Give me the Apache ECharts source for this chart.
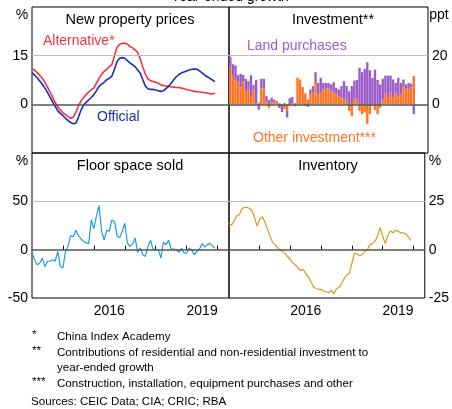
<!DOCTYPE html>
<html>
<head>
<meta charset="utf-8">
<script src="https://cdn.jsdelivr.net/npm/echarts@6/dist/echarts.min.js"></script>
<style>
  html, body { margin: 0; padding: 0; background: #fff; }
  #chart { width: 452px; height: 409px; }
</style>
</head>
<body>
<div id="chart"></div>
<script>
// monthly data, Jan 2014 onwards
const official = [9.8,9.0,8.2,7.2,6.2,5.0,3.7,2.2,0.8,-0.6, -2.0,-2.8,-3.5,-4.3,-5.0,-5.6,-6.0,-5.8,-4.0,-1.8,
  -0.3,0.6,1.4,2.1,3.0,4.2,5.5,6.2,6.8,7.6, 8.0,8.7,10.8,13.2,14.2,14.4,14.2,13.5,12.8,12.2,
  11.6,10.6,9.6,7.6,5.6,4.8,4.6,4.6,4.4,4.2, 4.0,4.2,4.8,5.6,6.5,7.6,8.5,9.2,9.7,10.0,
  10.3,10.6,10.8,10.9,10.8,10.3,9.7,9.0,8.5,8.0, 7.5,7.0];
const alternative = [11.0,10.5,9.8,9.0,8.0,6.8,5.3,3.8,2.2,0.6, -0.8,-1.8,-2.6,-3.2,-3.8,-4.3,-4.0,-2.5,-0.5,1.0,
  2.0,3.0,3.8,4.5,5.0,6.5,8.0,9.3,10.2,10.8, 11.6,12.3,15.0,17.6,18.5,18.8,18.8,18.6,17.8,17.4,
  16.8,16.0,14.0,11.5,9.3,7.8,7.3,7.0,6.8,6.5, 6.0,5.8,5.6,5.5,5.4,5.3,5.2,5.2,5.0,4.8,
  4.6,4.4,4.2,4.0,3.9,3.8,3.7,3.6,3.5,3.3, 3.2,3.4];
const otherInvestment = [15.6,12,10,9,7,9.5,5.5,6,3.5,6, 0.5,0.7,6.5,6.5,0.7,-1.4,1,0.7,1,0.5,
  -0.7,-2,-2.7,-0.5,0.6,0.5,10.9,10.2,6.8,4.5, 2,4,4.8,8.8,4,4.8,6.1,6.4,6.4,5.4,
  4.8,4,3.4,2.7,2,1.8,-2.7,-4.8,2.3,2, -2.7,-4,-3.4,-8,-4,-0.7,-2.5,-4,-1.4,2,
  4.4,2.7,4.8,2.7,4.8,3.4,4,7.5,6.4,6.1, 7,11.6];
const landPurchases = [3.9,4.5,6,3,5.5,2.5,5,3.5,8.5,2, 9.5,-2.2,4,4,2.7,1.8,1.7,1.3,0.4,-1.5,
  -2.5,0.5,-2.7,2.5,2.4,-0.8,0,0,0.3,-0.7, -1,2.1,2.7,4.4,4.8,6.1,2.7,2.4,2.4,2.8,
  4.3,2.8,2.7,4.8,7.5,5.7,5.4,7.5,7.5,8, 15,13.2,14.6,17.3,14,10.9,14.3,10,8.2,8.5,
  7.4,9.1,7,7.5,4,7.5,4.8,2.7,1.8,2.7, 1.5,-4];
const floorSpace = [-3.5,-10.5,-15.7,-14,-8.7,-17.5,-12,-12,-10.5,-12, -1.7,-17.5,-19,-1.7,3.5,14.7,13.3,20,14.7,11.2,
  8.7,7,6.3,30.8,21.7,35,45.5,19.2,9.8,20, 19.2,30.8,29,14.7,12.2,19.2,27.3,7,3.5,6,
  12.2,-2.8,1.7,-5.2,-7,3.5,9.8,0,0,0, -8.7,7.7,5.2,9.8,0.7,0.7,0,-2.8,1.4,-3.5,
  -3.5,1.4,0,-5.2,-1.7,0.7,6.3,2.8,5.2,6.5, 4.2,1.4];
const inventory = [13.6,12.6,14.9,17.5,18,21,21.9,21.9,21.3,20.1, 16.6,12.2,15.7,17,14.3,10.5,7,3.8,2.6,0.9,
  -0.3,-0.9,-2.1,-3.8,-5.2,-7,-7.9,-9.6,-10.8,-10.1, -12.6,-14,-16.6,-19.2,-20.1,-20.5,-20.5,-21.5,-21.9,-22.2,
  -21,-22.7,-20.1,-19.6,-17.5,-14.9,-13.1,-12.2,-7,-1.7, -2.1,-3.1,-2.6,-0.9,0,2.6,3.1,4.4,7,11.4,
  7,3.1,7.3,9.6,8.7,10,9.6,8.7,8.7,8.2, 6.6,4.9];

const yearTicks = [2015, 2016, 2017, 2018, 2019, 2020];
const yearLabels = [2016, 2019];

const FONT = 'Liberation Sans, Arial, sans-serif';
const t = m => 2014 + m / 12;
const lineData = arr => arr.map((v, i) => [t(i), v]);
// monthly slots for the bar panel, Jan 2014 to May 2020
const barMonths = Array.from({ length: 77 }, (_, i) => (2014 + Math.floor(i / 12)) + '-' + (i % 12 + 1));

const refLines = g => ({
  silent: true, symbol: ['none', 'none'], label: { show: false }, animation: false,
  data: [
    { yAxis: g, lineStyle: { color: '#bdbdbd', width: 1, type: 'solid' } },
    { yAxis: 0, lineStyle: { color: '#555', width: 1.5, type: 'solid' } }
  ]
});

function xAx(i, labels) {
  return {
    type: 'value', gridIndex: i, min: 2014, max: 2020.37,
    axisLine: { show: false }, splitLine: { show: false },
    axisTick: { show: labels, inside: true, length: 4, customValues: yearTicks, lineStyle: { color: '#000' } },
    axisLabel: { show: labels, customValues: yearLabels.map(y => y + 0.5), formatter: v => String(Math.floor(v)),
      fontSize: 14, color: '#000', margin: 6, fontFamily: FONT }
  };
}
function yAx(i, pos, min, max, step, showMin) {
  return {
    type: 'value', gridIndex: i, position: pos, min: min, max: max, interval: step,
    axisLine: { show: false }, axisTick: { show: false }, splitLine: { show: false },
    axisLabel: { formatter: v => (v === max || (v === min && !showMin)) ? '' : String(v),
      fontSize: 14, color: '#000', margin: 4, fontFamily: FONT }
  };
}
function txt(s, x, y, size, color, align) {
  return { type: 'text', x: x, y: y, silent: true,
    style: { text: s, font: size + 'px ' + FONT, fill: color || '#000',
      textAlign: align || 'center', textVerticalAlign: 'middle' } };
}

const gridBox = { show: true, borderColor: '#000', borderWidth: 1, backgroundColor: 'transparent' };

const chart = echarts.init(document.getElementById('chart'), null, { renderer: 'canvas' });
chart.setOption({
  animation: false,
  grid: [
    Object.assign({ left: 32, top: 7, width: 197, height: 146 }, gridBox),
    Object.assign({ left: 229, top: 7, width: 199, height: 146 }, gridBox),
    Object.assign({ left: 32, top: 153, width: 197, height: 145 }, gridBox),
    Object.assign({ left: 229, top: 153, width: 199, height: 145 }, gridBox)
  ],
  xAxis: [
    xAx(0, false),
    { type: 'category', gridIndex: 1, data: barMonths, boundaryGap: true,
      axisLine: { show: false }, axisTick: { show: false }, axisLabel: { show: false }, splitLine: { show: false } },
    xAx(2, true),
    xAx(3, true)
  ],
  yAxis: [
    yAx(0, 'left', -15, 30, 15, false),
    yAx(1, 'right', -20, 40, 20, false),
    yAx(2, 'left', -50, 100, 50, true),
    yAx(3, 'right', -25, 50, 25, true)
  ],
  series: [
    { type: 'line', xAxisIndex: 0, yAxisIndex: 0, data: lineData(alternative), showSymbol: false,
      lineStyle: { color: '#f5333f', width: 1.6 }, markLine: refLines(15) },
    { type: 'line', xAxisIndex: 0, yAxisIndex: 0, data: lineData(official), showSymbol: false,
      lineStyle: { color: '#1b2fae', width: 1.6 } },
    { type: 'bar', xAxisIndex: 1, yAxisIndex: 1, stack: 'inv', data: otherInvestment, barCategoryGap: '8%',
      itemStyle: { color: '#ff7324' }, markLine: refLines(20) },
    { type: 'bar', xAxisIndex: 1, yAxisIndex: 1, stack: 'inv', data: landPurchases, barCategoryGap: '8%',
      itemStyle: { color: '#9b5dc9' } },
    { type: 'line', xAxisIndex: 2, yAxisIndex: 2, data: lineData(floorSpace), showSymbol: false,
      lineStyle: { color: '#1a9fe0', width: 1.2 }, markLine: refLines(50) },
    { type: 'line', xAxisIndex: 3, yAxisIndex: 3, data: lineData(inventory), showSymbol: false,
      lineStyle: { color: '#d99b1a', width: 1.2 }, markLine: refLines(25) }
  ],
  graphic: [
    txt('Year-ended growth', 230, -3, 14),
    txt('%', 22, 15, 14),
    txt('ppt', 439, 15, 14),
    txt('%', 22, 161, 14),
    txt('%', 435, 161, 14),
    txt('New property prices', 130, 20, 14.5),
    txt('Investment**', 333, 20, 14.5),
    txt('Floor space sold', 130, 166, 14.5),
    txt('Inventory', 328, 166, 14.5),
    txt('Alternative*', 43, 41, 14, '#f5333f', 'left'),
    txt('Official', 97, 117, 14, '#1b2fae', 'left'),
    txt('Land purchases', 247, 46, 14, '#9b5dc9', 'left'),
    txt('Other investment***', 253, 138, 14, '#ff7324', 'left'),
    txt('*', 32, 335, 11.6, '#000', 'left'),
    txt('China Index Academy', 57, 337, 11.6, '#000', 'left'),
    txt('**', 32, 351, 11.6, '#000', 'left'),
    txt('Contributions of residential and non-residential investment to', 57, 353, 11.6, '#000', 'left'),
    txt('year-ended growth', 57, 368, 11.6, '#000', 'left'),
    txt('***', 32, 382, 11.6, '#000', 'left'),
    txt('Construction, installation, equipment purchases and other', 57, 384, 11.6, '#000', 'left'),
    txt('Sources: CEIC Data; CIA; CRIC; RBA', 31, 402, 11.6, '#000', 'left')
  ]
});
</script>
</body>
</html>
